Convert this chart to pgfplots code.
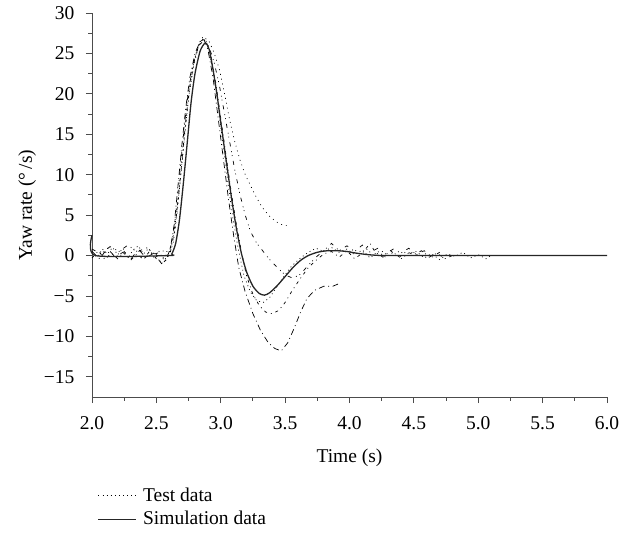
\documentclass[border=0pt]{standalone}
\usepackage{pgfplots}
\pgfplotsset{compat=1.18}
\usepackage{fontspec}
\setmainfont{Liberation Serif}
\begin{document}
\fontsize{19}{23}\selectfont
\begin{tikzpicture}
\begin{axis}[
  scale only axis, width=515pt, height=384pt,
  xmin=2, xmax=6, ymin=-17.5, ymax=30,
  axis x line=bottom, axis y line=left,
  axis line style={-, black!70, line width=0.9pt},
  tick style={black!70, line width=0.9pt},
  tick align=outside,
  major tick length=6pt, minor tick length=3.5pt,
  xtick={2,2.5,...,6}, minor x tick num=1,
  ytick={-15,-10,-5,0,5,10,15,20,25,30}, minor y tick num=1,
  xticklabels={2.0,2.5,3.0,3.5,4.0,4.5,5.0,5.5,6.0},
  yticklabels={−15,−10,−5,0,5,10,15,20,25,30},
  ticklabel style={font=\fontsize{19.5}{23}\selectfont},
  xticklabel style={yshift=-7pt},
  yticklabel style={xshift=-5pt},
  label style={font=\fontsize{19.5}{23}\selectfont},
  xlabel={Time (s)}, ylabel={Yaw rate (°\,/s)},
  xlabel style={yshift=-6pt},
  ylabel style={yshift=-5pt},
  legend style={draw=none, fill=none, at={(0.005,-0.225)}, anchor=north west,
    font=\fontsize{19.5}{23}\selectfont, row sep=3pt,
    legend cell align=left, nodes={inner xsep=6pt}},
  legend image code/.code={\draw[#1] (0pt,0pt) -- (38pt,0pt);},
  clip=false,
]
% Test run 1 (dotted)
\addplot[black, line width=0.7pt, dash pattern=on 0.9pt off 3.2pt] coordinates {
(2.00,0.3)(2.04,-0.2)(2.08,0.8)(2.12,0.2)(2.16,1.0)(2.20,0.1)(2.24,0.9)(2.28,-0.3)(2.32,0.7)(2.36,1.2)(2.40,0.2)(2.44,0.9)(2.48,-0.2)(2.52,0.5)(2.56,-0.6)(2.60,0.3)
(2.63,2)(2.66,5.5)(2.69,10)(2.72,15)(2.75,19.5)(2.78,23)(2.82,25.8)(2.86,27)(2.90,26)(2.94,23)(2.98,18.5)(3.02,13.5)(3.06,8.5)(3.10,4)(3.14,0.5)(3.18,-2.5)(3.23,-4.5)(3.28,-5.6)(3.33,-5.8)(3.38,-5.2)(3.43,-4)(3.49,-2.6)(3.55,-1.3)(3.62,-0.3)(3.68,0.4)(3.74,0.9)(3.80,0.5)(3.86,1.0)(3.92,0.4)(3.98,0.8)(4.04,0.1)(4.10,0.7)(4.16,-0.3)(4.22,0.5)(4.28,-0.2)(4.34,0.4)(4.40,-0.4)(4.46,0.3)(4.52,0.5)(4.58,-0.3)(4.64,0.2)(4.70,-0.5)(4.76,0.2)(4.82,-0.1)(4.88,0.4)(4.94,-0.3)(5.00,0.1)(5.06,-0.4)(5.10,0)
};
\addlegendentry{Test data}
% Test run 2 (dashed)
\addplot[black, line width=0.7pt, dash pattern=on 3pt off 4pt on 0.9pt off 4pt, forget plot] coordinates {
(2.00,-0.3)(2.05,0.6)(2.10,-0.5)(2.15,0.3)(2.20,-0.4)(2.25,0.5)(2.30,-0.6)(2.35,0.2)(2.40,-0.5)(2.45,0.6)(2.50,-0.4)(2.55,-0.9)(2.58,-0.5)(2.61,0.5)
(2.64,3)(2.67,7)(2.70,12)(2.73,17)(2.76,21)(2.80,24.5)(2.84,26.5)(2.88,26.8)(2.92,25)(2.96,21.5)(3.00,17)(3.04,12.5)(3.08,8)(3.12,4)(3.16,0.5)(3.20,-2.5)(3.25,-4.8)(3.30,-6.2)(3.35,-7)(3.40,-7.2)(3.45,-6.8)(3.50,-5.8)(3.56,-4.2)(3.62,-2.8)(3.68,-1.5)(3.74,-0.6)(3.80,0.2)(3.86,0.5)(3.92,-0.2)(3.98,0.6)(4.04,-0.4)(4.10,0.3)(4.16,1.5)(4.20,0.4)(4.26,-0.2)(4.32,0.6)(4.38,-0.3)(4.44,0.5)(4.50,0.1)(4.56,0.6)(4.62,-0.2)(4.68,0.3)(4.74,-0.4)(4.80,0)
};
% Test run 3 (dash-dot, deep)
\addplot[black, line width=0.7pt, dash pattern=on 6pt off 3.5pt on 0.9pt off 3.5pt, forget plot] coordinates {
(2.00,0.5)(2.06,-0.4)(2.12,0.9)(2.18,-0.2)(2.24,0.4)(2.30,-0.5)(2.36,0.8)(2.42,-0.3)(2.48,0.3)(2.54,-1.0)(2.58,-0.4)(2.61,1)
(2.64,4)(2.67,9)(2.70,14)(2.73,18.5)(2.76,22)(2.80,25)(2.84,26.5)(2.87,26.7)(2.90,25.5)(2.94,22)(2.98,17)(3.02,12)(3.06,7)(3.10,2.5)(3.14,-1.5)(3.19,-4.5)(3.25,-7.2)(3.31,-9.3)(3.37,-10.8)(3.42,-11.5)(3.47,-11.8)(3.52,-10.8)(3.57,-9.0)(3.62,-7.0)(3.67,-5.3)(3.73,-4.3)(3.80,-3.8)(3.87,-3.8)(3.93,-3.4)
};
% Test run 4 (dotted, slow decay)
\addplot[black, line width=0.7pt, dash pattern=on 0.9pt off 4pt, forget plot] coordinates {
(2.55,-0.3)(2.60,0.2)(2.63,1.5)(2.66,5)(2.69,10)(2.72,15)(2.75,19.5)(2.79,23.5)(2.83,26)(2.87,27)(2.91,26.5)(2.95,25)(2.99,23)(3.03,20)(3.07,16.7)(3.11,14)(3.15,11.8)(3.19,10)(3.23,8.7)(3.27,7.4)(3.32,6)(3.37,5)(3.42,4.3)(3.46,3.9)(3.50,3.7)(3.54,3.7)
};
% Test run 5 (loose dashes)
\addplot[black, line width=0.7pt, dash pattern=on 4pt off 5pt on 0.9pt off 3pt on 0.9pt off 5pt, forget plot] coordinates {
(2.00,0.8)(2.07,0.2)(2.14,1.1)(2.21,0.5)(2.28,1.3)(2.35,0.4)(2.42,1.0)(2.49,0.2)(2.56,0.6)(2.60,0.4)
(2.63,2.5)(2.66,6.5)(2.69,11.5)(2.72,16.5)(2.75,20.5)(2.79,24)(2.83,26)(2.87,26.6)(2.91,25.8)(2.95,23.8)(2.99,21)(3.03,17.5)(3.07,14)(3.11,10.5)(3.15,7.5)(3.19,5)(3.23,3)(3.28,1.5)(3.33,0.5)(3.38,-0.5)(3.44,-1.5)(3.50,-2.4)(3.56,-2.8)(3.62,-2.3)(3.68,-1.2)(3.74,-0.2)(3.80,0.6)(3.86,1.5)(3.92,0.6)(3.98,1.2)(4.04,0.5)(4.10,1.3)(4.16,0.4)(4.22,0.9)(4.28,0.2)(4.34,0.8)(4.40,0.3)(4.46,0.9)(4.52,0.1)(4.58,0.6)(4.64,-0.2)(4.70,0.4)
};
% Simulation
\addplot[black!85, line width=1.3pt, smooth, tension=0.4] coordinates {
(2.0,2.5)(2.025,0)(2.6,0)(2.62,0.2)(2.65,1.5)(2.68,4.5)(2.71,9)(2.74,14)(2.77,19)(2.80,22.5)(2.84,25.3)(2.88,26.3)(2.91,25.5)(2.94,23)(2.97,20)(3.0,16.5)(3.04,12)(3.08,7.5)(3.12,3.5)(3.16,0.3)(3.2,-2)(3.25,-3.8)(3.3,-4.7)(3.34,-4.9)(3.38,-4.6)(3.44,-3.7)(3.5,-2.6)(3.56,-1.5)(3.62,-0.6)(3.68,0)(3.75,0.4)(3.82,0.58)(3.9,0.6)(3.98,0.5)(4.05,0.3)(4.15,0.1)(4.25,0.0)(4.4,0)(6.0,0)
};
\addlegendentry{Simulation data}
\end{axis}
\path (current axis.south west) ++(-92pt,-142pt) rectangle ++(634pt,539pt);
\end{tikzpicture}
\end{document}
